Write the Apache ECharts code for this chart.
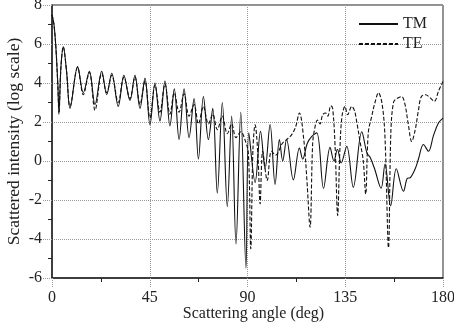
<!DOCTYPE html>
<html>
<head>
<meta charset="utf-8">
<script src="https://cdn.jsdelivr.net/npm/echarts@6/dist/echarts.min.js"></script>
<style>
html,body{margin:0;padding:0;background:#fff;}
#chart{width:454px;height:330px;}
</style>
</head>
<body>
<div id="chart"></div>
<script>
// ---- data ----
var seriesNames = ['TM', 'TE'];
var xTicks = [0, 45, 90, 135, 180];
var yTicks = [-6, -4, -2, 0, 2, 4, 6, 8];

var tmAngles = [0, 0.9, 1.8, 2.7, 3.2, 4.1, 5.2, 6.7, 8.3, 11.8, 14.4, 17.2, 19.8, 22.9, 25.2, 27.5, 30.5, 33.1, 35.9, 38.2, 40.5, 42.8, 45.1, 47.4, 49.7, 52.0, 54.3, 56.3, 58.5, 60.8, 63.1, 65.4, 67.4, 69.7, 72.0, 74.0, 76.1, 78.4, 80.7, 82.7, 84.7, 86.9, 89.3, 90.6, 93.5, 96.0, 98.1, 100.4, 102.7, 104.7, 106.2, 108.0, 111.1, 113.9, 115.4, 117.5, 119.5, 121.9, 125.0, 128.0, 129.8, 131.4, 133.1, 135.7, 138.7, 142.6, 145.0, 146.4, 148.5, 151.5, 153.3, 155.9, 158.5, 161.8, 163.5, 165.0, 167.2, 168.7, 171.0, 173.3, 175.6, 177.9, 180];
var tmValues = [7.5, 7.0, 5.8, 3.9, 2.5, 4.8, 5.86, 4.6, 2.7, 4.84, 3.5, 4.6, 2.9, 4.6, 3.4, 4.5, 2.8, 4.4, 3.1, 4.4, 2.7, 4.25, 1.85, 4.0, 2.05, 4.1, 1.8, 3.7, 1.1, 3.7, 1.2, 3.2, 0.1, 3.3, 1.1, 2.7, -1.65, 3.0, -2.34, 2.3, -4.26, 2.5, -5.5, 1.44, -1.1, 1.52, -0.4, 1.87, -1.2, 1.1, 0.0, 1.1, -0.97, 0.67, 0.1, 0.9, 1.25, 1.44, -1.4, 0.7, 0.0, 0.6, -0.1, 0.76, -1.35, 1.5, 0.4, 0.2, -0.4, -1.4, -0.15, -2.3, -0.4, -1.55, -0.9, -0.85, -0.4, 0.1, 0.85, 0.5, 1.3, 1.95, 2.2];

var teAngles = [0, 0.9, 1.8, 2.7, 3.2, 4.1, 5.2, 6.7, 8.3, 11.8, 14.4, 17.2, 19.8, 22.9, 25.2, 27.5, 30.5, 33.1, 35.9, 38.2, 40.5, 42.8, 45.1, 47.4, 49.7, 52.0, 54.3, 56.3, 58.5, 60.8, 63.1, 65.4, 67.4, 69.7, 72.0, 74.0, 76.1, 78.4, 80.7, 82.7, 84.7, 86.9, 88.8, 90.4, 91.5, 92.5, 93.5, 94.8, 95.8, 97.0, 99.1, 101.0, 103.0, 106.0, 108.0, 110.0, 112.0, 113.9, 116.0, 117.3, 118.8, 120.0, 121.0, 122.2, 123.4, 124.6, 126.0, 127.0, 128.3, 129.2, 130.3, 131.5, 132.5, 133.5, 134.9, 136.1, 138.0, 139.2, 140.3, 141.8, 143.3, 144.4, 145.6, 147.2, 148.7, 150.3, 152.0, 153.3, 154.9, 156.0, 157.2, 158.7, 161.0, 162.5, 164.0, 165.6, 167.2, 168.7, 170.0, 172.0, 174.0, 176.0, 178.0, 180];
var teValues = [7.5, 7.0, 5.8, 3.8, 2.4, 4.8, 5.86, 4.6, 2.8, 4.8, 3.4, 4.55, 2.6, 4.5, 3.5, 4.4, 3.0, 4.3, 3.2, 4.3, 2.9, 4.1, 2.2, 3.9, 2.5, 3.95, 2.4, 3.5, 2.5, 3.45, 2.3, 2.9, 1.9, 2.8, 1.9, 2.4, 1.6, 2.3, 1.4, 1.9, 1.2, 1.5, 1.1, 0.4, -4.5, 0.6, 1.86, 0.3, -2.2, 0.5, -1.0, 0.5, 0.3, 0.9, 1.1, 1.3, 1.7, 2.46, 1.0, -0.9, -3.4, 0.9, 1.7, 2.1, 1.9, 2.37, 2.46, 2.3, 2.83, 2.7, 0.8, -2.8, 0.5, 2.3, 2.8, 2.37, 2.8, 2.6, 2.0, 1.0, 0.0, -1.7, 1.44, 2.3, 3.0, 3.5, 2.9, 1.2, -4.45, 1.5, 3.0, 3.2, 3.3, 2.9, 1.9, 1.0, 1.6, 2.6, 3.3, 3.4, 3.25, 3.06, 3.6, 4.08];

function zip(a, b) { var r = []; for (var i = 0; i < a.length; i++) r.push([a[i], b[i]]); return r; }

var FONT = 'Liberation Serif';
var chart = echarts.init(document.getElementById('chart'), null, {renderer: 'canvas'});
var option = {
  animation: false,
  backgroundColor: '#fff',
  grid: {left: 52, right: 11, top: 5, bottom: 52, show: true, borderColor: '#222', borderWidth: 1,
         containLabel: false, outerBoundsMode: 'none'},
  legend: {
    show: true, orient: 'vertical', right: 27, top: 16, padding: 0,
    itemWidth: 39, itemHeight: 14, itemGap: 4,
    data: seriesNames,
    itemStyle: {opacity: 0},
    textStyle: {fontFamily: FONT, fontSize: 16, color: '#222'}
  },
  xAxis: {
    type: 'value', min: xTicks[0], max: xTicks[xTicks.length - 1], interval: 45,
    name: 'Scattering angle (deg)', nameLocation: 'middle', nameGap: 28, nameMoveOverlap: false,
    nameTextStyle: {fontFamily: FONT, fontSize: 16, color: '#222', padding: [0, 0, 0, 12]},
    axisLine: {show: true, onZero: false, lineStyle: {color: '#222', width: 1.5}},
    axisTick: {show: true, length: 9, lineStyle: {color: '#999', type: 'dotted'}},
    minorTick: {show: true, splitNumber: 2, length: 4, lineStyle: {color: '#222', width: 1}},
    axisLabel: {fontFamily: FONT, fontSize: 16, color: '#222', margin: 12},
    splitLine: {show: true, lineStyle: {color: '#999', type: 'dotted', width: 1}}
  },
  yAxis: {
    type: 'value', min: yTicks[0], max: yTicks[yTicks.length - 1], interval: 2,
    name: 'Scattered intensity (log scale)', nameLocation: 'middle', nameGap: 29, nameMoveOverlap: false,
    nameTextStyle: {fontFamily: FONT, fontSize: 17.5, color: '#222'},
    axisLine: {show: true, onZero: false, lineStyle: {color: '#222', width: 1.5}},
    axisTick: {show: true, length: 9, lineStyle: {color: '#999', type: 'dotted'}},
    minorTick: {show: true, splitNumber: 2, length: 4, lineStyle: {color: '#222', width: 1}},
    axisLabel: {fontFamily: FONT, fontSize: 16, color: '#222', margin: 10},
    splitLine: {show: true, lineStyle: {color: '#999', type: 'dotted', width: 1}}
  },
  series: [
    {
      name: seriesNames[0], type: 'line', data: zip(tmAngles, tmValues),
      symbol: 'none', smooth: 0.35,
      lineStyle: {color: '#111', width: 1.1, type: 'solid'},
      itemStyle: {color: '#111'}
    },
    {
      name: seriesNames[1], type: 'line', data: zip(teAngles, teValues),
      symbol: 'none', smooth: 0.35,
      lineStyle: {color: '#111', width: 1.1, type: [4, 2]},
      itemStyle: {color: '#111'}
    }
  ]
};
chart.setOption(option);
</script>
</body>
</html>
